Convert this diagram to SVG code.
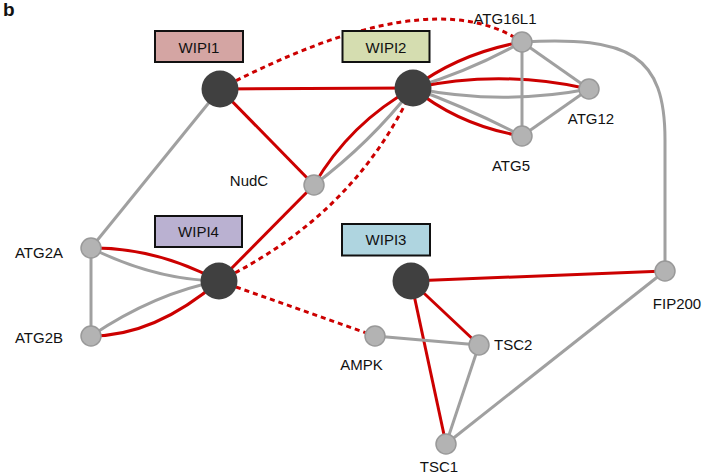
<svg xmlns="http://www.w3.org/2000/svg" width="705" height="474" viewBox="0 0 705 474">
<style>
.e{fill:none;stroke-width:3}
.r{stroke:#cc0000}
.g{stroke:#a0a0a0}
.d{stroke:#cc0000;stroke-dasharray:5 4}
.hub{fill:#404040}
.sm{fill:#b3b3b3;stroke:#999999;stroke-width:1.5}
.lbl{font-family:"Liberation Sans",Arial,sans-serif;font-size:15px;fill:#111}
.box{stroke:#111;stroke-width:2}
</style>
<rect width="705" height="474" fill="#ffffff"/>
<text x="3" y="16" font-family="Liberation Sans, Arial, sans-serif" font-size="19" font-weight="bold" fill="#111">b</text>
<g id="connectors">
  <path class="e r" d="M220,89 L413,88"/>
  <path class="e r" d="M220,89 L314,185"/>
  <path class="e g" d="M220,89 L91,248"/>
  <path class="e d" d="M220,89 Q429,-21 522,42"/>
  <path class="e r" d="M413,88 Q460,53 522,42"/>
  <path class="e g" d="M413,88 Q470,71 522,42"/>
  <path class="e r" d="M413,88 Q501,69 589,89"/>
  <path class="e g" d="M413,88 Q501,106 589,89"/>
  <path class="e r" d="M413,88 Q460,126 522,136"/>
  <path class="e g" d="M413,88 Q468,108 522,136"/>
  <path class="e r" d="M314,185 Q350,123 413,88"/>
  <path class="e g" d="M314,185 Q370,143 413,88"/>
  <path class="e d" d="M219,281 Q355,215 413,88"/>
  <path class="e g" d="M522,42 L589,89"/>
  <path class="e g" d="M522,42 L522,136"/>
  <path class="e g" d="M522,136 L589,89"/>
  <path class="e g" d="M522,42 C630,36 665,55 665,140 L665,271"/>
  <path class="e r" d="M219,281 L314,185"/>
  <path class="e d" d="M219,281 L375,336"/>
  <path class="e r" d="M91,248 Q155,247 219,281"/>
  <path class="e g" d="M91,248 Q155,280 219,281"/>
  <path class="e g" d="M91,336 Q155,293 219,281"/>
  <path class="e r" d="M91,336 Q155,336 219,281"/>
  <path class="e g" d="M91,248 L91,336"/>
  <path class="e r" d="M411,281 L665,271"/>
  <path class="e r" d="M411,281 L479,345"/>
  <path class="e r" d="M411,281 L446,444"/>
  <path class="e g" d="M375,336 L479,345"/>
  <path class="e g" d="M479,345 L446,444"/>
  <path class="e g" d="M446,444 L665,271"/>
</g>
<g id="WIPI1">
  <rect class="box" x="155" y="31" width="88" height="31" fill="#d4a5a3"/>
  <text class="lbl" x="199" y="52.5" text-anchor="middle">WIPI1</text>
  <circle class="hub" cx="220" cy="89" r="18.5"/>
</g>
<g id="WIPI2">
  <rect class="box" x="342.5" y="31" width="87" height="31" fill="#d5ddb0"/>
  <text class="lbl" x="386" y="52.5" text-anchor="middle">WIPI2</text>
  <circle class="hub" cx="413" cy="88" r="18.5"/>
</g>
<g id="WIPI4">
  <rect class="box" x="155" y="216" width="87" height="31" fill="#bab1d1"/>
  <text class="lbl" x="198.5" y="237" text-anchor="middle">WIPI4</text>
  <circle class="hub" cx="219" cy="281" r="18.5"/>
</g>
<g id="WIPI3">
  <rect class="box" x="342" y="224" width="88" height="31.5" fill="#afd5e0"/>
  <text class="lbl" x="386" y="245" text-anchor="middle">WIPI3</text>
  <circle class="hub" cx="411" cy="281" r="18.5"/>
</g>
<g id="ATG16L1">
  <circle class="sm" cx="522" cy="42" r="10"/>
  <text class="lbl" x="505" y="24" text-anchor="middle">ATG16L1</text>
</g>
<g id="ATG12">
  <circle class="sm" cx="589" cy="89" r="10"/>
  <text class="lbl" x="591" y="124" text-anchor="middle">ATG12</text>
</g>
<g id="ATG5">
  <circle class="sm" cx="522" cy="136" r="10"/>
  <text class="lbl" x="511" y="171" text-anchor="middle">ATG5</text>
</g>
<g id="NudC">
  <circle class="sm" cx="314" cy="185" r="10"/>
  <text class="lbl" x="249" y="186" text-anchor="middle">NudC</text>
</g>
<g id="ATG2A">
  <circle class="sm" cx="91" cy="248" r="10"/>
  <text class="lbl" x="39" y="257.5" text-anchor="middle">ATG2A</text>
</g>
<g id="ATG2B">
  <circle class="sm" cx="91" cy="336" r="10"/>
  <text class="lbl" x="39" y="342.5" text-anchor="middle">ATG2B</text>
</g>
<g id="FIP200">
  <circle class="sm" cx="665" cy="271" r="10"/>
  <text class="lbl" x="677" y="308.5" text-anchor="middle">FIP200</text>
</g>
<g id="AMPK">
  <circle class="sm" cx="375" cy="336" r="10"/>
  <text class="lbl" x="361.5" y="370" text-anchor="middle">AMPK</text>
</g>
<g id="TSC2">
  <circle class="sm" cx="479" cy="345" r="10"/>
  <text class="lbl" x="494" y="349.5">TSC2</text>
</g>
<g id="TSC1">
  <circle class="sm" cx="446" cy="444" r="10"/>
  <text class="lbl" x="439" y="472" text-anchor="middle">TSC1</text>
</g>
</svg>
